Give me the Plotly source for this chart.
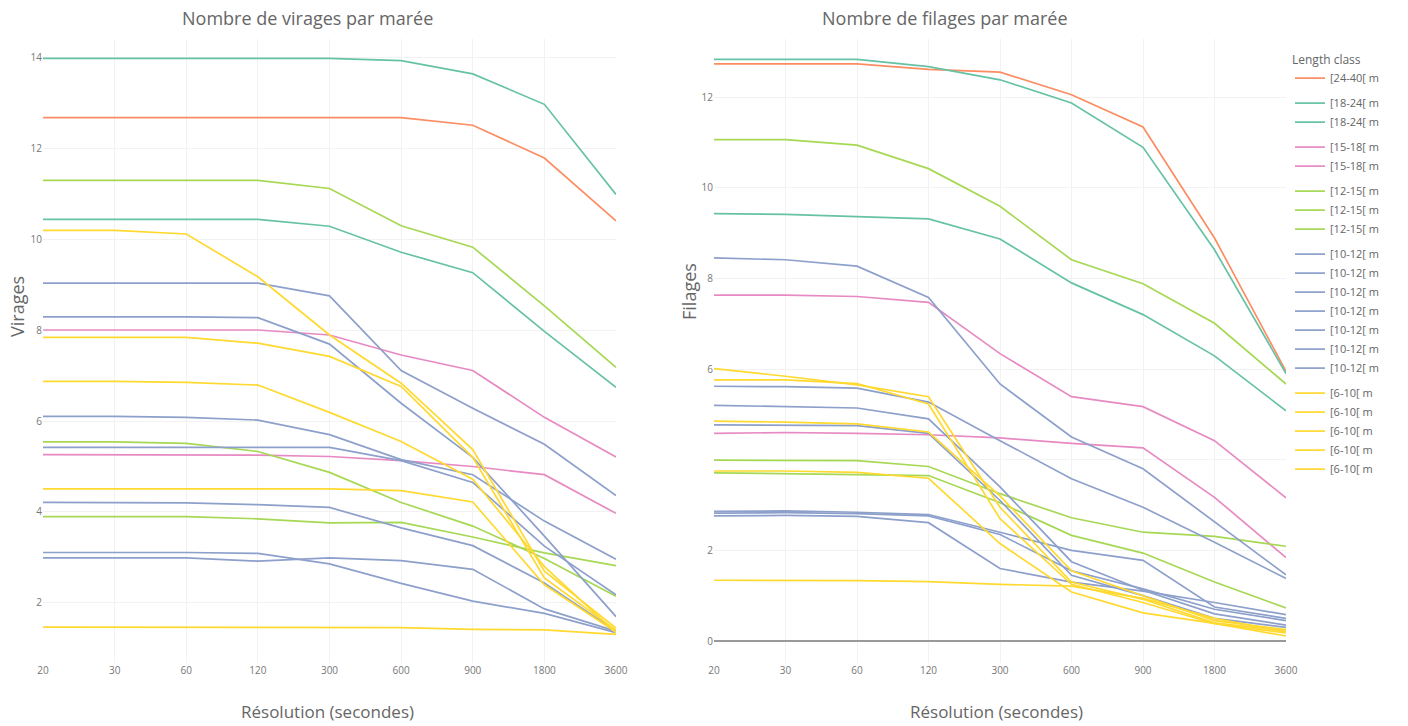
import plotly.graph_objects as go

# ---------------- data ----------------
resolution = ["20", "30", "60", "120", "300", "600", "900", "1800", "3600"]

classes = ["[24-40[ m", "[18-24[ m", "[15-18[ m", "[12-15[ m", "[10-12[ m", "[6-10[ m"]
class_colors = ["#fc8d62", "#66c2a5", "#e78ac3", "#a6d854", "#8da0cb", "#ffd92f"]

# Nombre de virages par marée
virages_24_40 = [[12.67, 12.67, 12.67, 12.67, 12.67, 12.67, 12.50, 11.78, 10.40]]
virages_18_24 = [[13.97, 13.97, 13.97, 13.97, 13.97, 13.92, 13.63, 12.96, 10.98],
                 [10.43, 10.43, 10.43, 10.43, 10.28, 9.71, 9.26, 7.97, 6.74]]
virages_15_18 = [[8.00, 8.00, 8.00, 8.00, 7.89, 7.45, 7.11, 6.08, 5.21],
                 [5.26, 5.26, 5.26, 5.25, 5.22, 5.13, 5.00, 4.82, 3.97]]
virages_12_15 = [[11.29, 11.29, 11.29, 11.29, 11.11, 10.29, 9.82, 8.53, 7.18],
                 [5.54, 5.54, 5.51, 5.33, 4.87, 4.21, 3.69, 2.98, 2.15],
                 [3.90, 3.90, 3.90, 3.85, 3.76, 3.77, 3.45, 3.10, 2.82]]
virages_10_12 = [[9.03, 9.03, 9.03, 9.03, 8.75, 7.11, 6.28, 5.49, 4.36],
                 [8.29, 8.29, 8.29, 8.27, 7.69, 6.39, 5.20, 3.47, 1.70],
                 [6.10, 6.10, 6.08, 6.02, 5.70, 5.15, 4.82, 3.80, 2.96],
                 [5.42, 5.42, 5.42, 5.42, 5.42, 5.13, 4.65, 3.25, 2.18],
                 [4.21, 4.21, 4.20, 4.16, 4.10, 3.65, 3.26, 2.44, 1.38],
                 [3.11, 3.11, 3.11, 3.09, 2.86, 2.43, 2.04, 1.77, 1.35],
                 [2.99, 2.99, 2.99, 2.92, 2.99, 2.93, 2.74, 1.87, 1.38]]
virages_6_10 = [[10.19, 10.19, 10.11, 9.17, 7.89, 6.83, 5.37, 2.70, 1.45],
                [7.84, 7.84, 7.84, 7.71, 7.42, 6.76, 5.20, 2.55, 1.40],
                [6.87, 6.87, 6.85, 6.79, 6.19, 5.55, 4.72, 2.80, 1.35],
                [4.51, 4.51, 4.51, 4.51, 4.51, 4.47, 4.22, 2.40, 1.36],
                [1.47, 1.47, 1.47, 1.47, 1.47, 1.46, 1.42, 1.41, 1.31]]

# Nombre de filages par marée
filages_24_40 = [[12.73, 12.73, 12.73, 12.61, 12.55, 12.05, 11.34, 8.89, 5.95]]
filages_18_24 = [[12.83, 12.83, 12.83, 12.67, 12.38, 11.87, 10.89, 8.63, 5.90],
                 [9.43, 9.41, 9.36, 9.31, 8.87, 7.90, 7.20, 6.29, 5.08]]
filages_15_18 = [[7.63, 7.63, 7.60, 7.47, 6.34, 5.39, 5.17, 4.42, 3.16],
                 [4.58, 4.60, 4.58, 4.55, 4.48, 4.36, 4.26, 3.17, 1.84]]
filages_12_15 = [[11.06, 11.06, 10.94, 10.42, 9.59, 8.41, 7.88, 7.01, 5.67],
                 [3.99, 3.99, 3.98, 3.85, 3.25, 2.72, 2.40, 2.31, 2.09],
                 [3.71, 3.69, 3.67, 3.65, 3.05, 2.33, 1.94, 1.30, 0.73]]
filages_10_12 = [[8.45, 8.41, 8.27, 7.58, 5.67, 4.50, 3.80, 2.62, 1.46],
                 [5.62, 5.61, 5.58, 5.27, 4.42, 3.58, 2.95, 2.18, 1.38],
                 [5.20, 5.17, 5.14, 4.90, 3.40, 1.75, 1.12, 0.60, 0.35],
                 [4.77, 4.76, 4.75, 4.58, 3.10, 1.45, 1.00, 0.50, 0.30],
                 [2.86, 2.87, 2.84, 2.79, 2.40, 2.00, 1.78, 0.75, 0.50],
                 [2.82, 2.83, 2.81, 2.76, 2.35, 1.55, 1.15, 0.70, 0.45],
                 [2.76, 2.77, 2.75, 2.61, 1.60, 1.30, 1.10, 0.85, 0.58]]
filages_6_10 = [[6.01, 5.84, 5.65, 5.39, 2.95, 1.30, 0.92, 0.40, 0.22],
                [5.76, 5.76, 5.68, 5.23, 2.70, 1.25, 0.85, 0.38, 0.18],
                [4.85, 4.83, 4.79, 4.61, 3.20, 1.55, 1.00, 0.45, 0.25],
                [3.75, 3.75, 3.72, 3.59, 2.15, 1.08, 0.62, 0.39, 0.11],
                [1.34, 1.34, 1.33, 1.31, 1.25, 1.21, 0.94, 0.50, 0.20]]

virages_by_class = [virages_24_40, virages_18_24, virages_15_18,
                    virages_12_15, virages_10_12, virages_6_10]
filages_by_class = [filages_24_40, filages_18_24, filages_15_18,
                    filages_12_15, filages_10_12, filages_6_10]

left_yticks = [2, 4, 6, 8, 10, 12, 14]
right_yticks = [0, 2, 4, 6, 8, 10, 12]
right_yticktext = ["0", "2", "", "6", "8", "10", "12"]

# ---------------- figure ----------------
W, H = 1408, 726
fig = go.Figure()

for cls, col, series_list in zip(classes, class_colors, virages_by_class):
    for s in series_list:
        fig.add_trace(go.Scatter(x=resolution, y=s, mode="lines", name=cls,
                                 legendgroup=cls, showlegend=False,
                                 line=dict(color=col, width=1.7),
                                 xaxis="x", yaxis="y"))

for cls, col, series_list in zip(classes, class_colors, filages_by_class):
    for s in series_list:
        fig.add_trace(go.Scatter(x=resolution, y=s, mode="lines", name=cls,
                                 legendgroup=cls, showlegend=True,
                                 line=dict(color=col, width=1.7),
                                 xaxis="x2", yaxis="y2"))

def px_x(p):
    return p / W

def px_y(p):
    return 1 - p / H

tick_font = dict(family="Open Sans", size=10, color="#777")
grid = "#f2f2f2"
y_dom = [px_y(663), px_y(39)]

fig.update_layout(
    template="none",
    width=W, height=H, autosize=False,
    margin=dict(l=0, r=0, t=0, b=0),
    paper_bgcolor="white", plot_bgcolor="white",
    font=dict(family="Open Sans", color="#666"),
    xaxis=dict(domain=[px_x(43), px_x(616)], type="category",
               categoryorder="array", categoryarray=resolution,
               range=[0, 8], showgrid=True, gridcolor=grid, zeroline=False,
               showline=False, ticks="", tickfont=tick_font, anchor="y"),
    yaxis=dict(domain=y_dom, range=[0.681, 14.396], tickvals=left_yticks,
               showgrid=True, gridcolor=grid, zeroline=False, showline=False,
               ticks="", tickfont=tick_font, anchor="x"),
    xaxis2=dict(domain=[px_x(714), px_x(1286)], type="category",
                categoryorder="array", categoryarray=resolution,
                range=[0, 8], showgrid=True, gridcolor=grid, zeroline=False,
                showline=False, ticks="", tickfont=tick_font, anchor="y2"),
    yaxis2=dict(domain=y_dom, range=[-0.485, 13.28], tickvals=right_yticks,
                ticktext=right_yticktext, showgrid=True, gridcolor=grid,
                zeroline=True, zerolinecolor="#999", zerolinewidth=1.5,
                showline=False, ticks="", tickfont=tick_font, anchor="x2"),
    legend=dict(x=px_x(1290), y=px_y(48), xanchor="left", yanchor="top",
                bgcolor="rgba(0,0,0,0)", tracegroupgap=6,
                font=dict(family="Open Sans", size=11, color="#666"),
                title=dict(text="Length class",
                           font=dict(family="Open Sans", size=12, color="#666"))),
    showlegend=True,
)

title_font = dict(family="Open Sans", size=18, color="#666")
axis_font = dict(family="Open Sans", size=18, color="#666")
xtitle_font = dict(family="Open Sans", size=17, color="#666")
annots = [
    dict(text="Nombre de virages par marée", x=px_x(307), y=px_y(18), font=title_font),
    dict(text="Nombre de filages par marée", x=px_x(945), y=px_y(18), font=title_font),
    dict(text="Virages", x=px_x(17), y=px_y(307), textangle=-90, font=axis_font),
    dict(text="Filages", x=px_x(689), y=px_y(292), textangle=-90, font=axis_font),
    dict(text="Résolution (secondes)", x=px_x(327), y=px_y(711), font=xtitle_font),
    dict(text="Résolution (secondes)", x=px_x(996), y=px_y(711), font=xtitle_font),
]
for a in annots:
    fig.add_annotation(xref="paper", yref="paper", xanchor="center",
                       yanchor="middle", showarrow=False, **a)

fig.write_html("out.html")
